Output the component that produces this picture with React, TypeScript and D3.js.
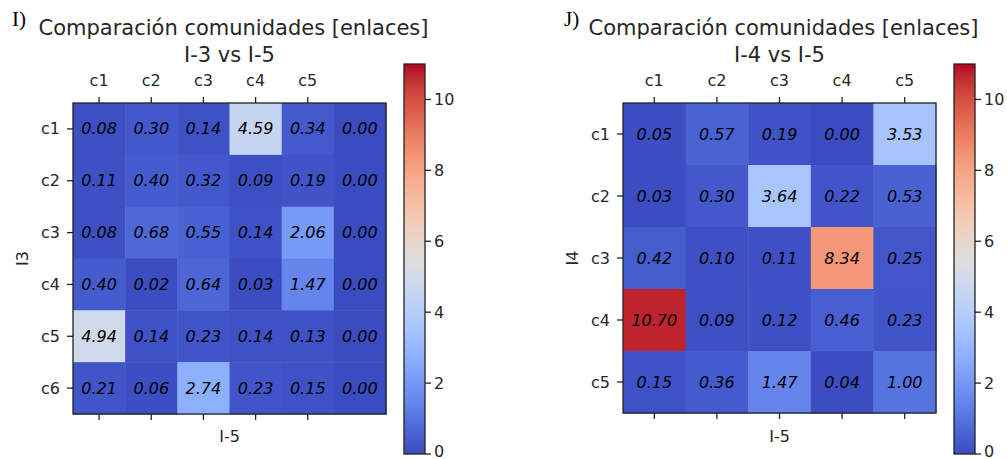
import React from "react";
import * as d3 from "d3";

// Matrices of link comparison between community partitions
const rowsI3 = ["c1", "c2", "c3", "c4", "c5", "c6"];
const colLabelsI5a = ["c1", "c2", "c3", "c4", "c5"];
const valuesI3vsI5 = [
  [0.08, 0.3, 0.14, 4.59, 0.34, 0.0],
  [0.11, 0.4, 0.32, 0.09, 0.19, 0.0],
  [0.08, 0.68, 0.55, 0.14, 2.06, 0.0],
  [0.4, 0.02, 0.64, 0.03, 1.47, 0.0],
  [4.94, 0.14, 0.23, 0.14, 0.13, 0.0],
  [0.21, 0.06, 2.74, 0.23, 0.15, 0.0],
];

const rowsI4 = ["c1", "c2", "c3", "c4", "c5"];
const colLabelsI5b = ["c1", "c2", "c3", "c4", "c5"];
const valuesI4vsI5 = [
  [0.05, 0.57, 0.19, 0.0, 3.53],
  [0.03, 0.3, 3.64, 0.22, 0.53],
  [0.42, 0.1, 0.11, 8.34, 0.25],
  [10.7, 0.09, 0.12, 0.46, 0.23],
  [0.15, 0.36, 1.47, 0.04, 1.0],
];

const colorTicks = [0, 2, 4, 6, 8, 10];
const colorMax = 11;

// Diverging blue-white-red colour ramp (coolwarm)
const coolwarmStops: [number, number, number][] = [
  [0.2298057, 0.298717966, 0.753683153],
  [0.26623388, 0.353094838, 0.801466763],
  [0.30386891, 0.406535296, 0.84495867],
  [0.342804478, 0.458757618, 0.883725899],
  [0.38301334, 0.50941904, 0.917387822],
  [0.424369608, 0.558148092, 0.945619588],
  [0.46666708, 0.604562568, 0.968154911],
  [0.509635204, 0.648280772, 0.98478814],
  [0.552953156, 0.688929332, 0.995375608],
  [0.596262162, 0.726149107, 0.999836203],
  [0.639176211, 0.759599947, 0.998151185],
  [0.681291281, 0.788964712, 0.990363227],
  [0.722193294, 0.813952739, 0.976574709],
  [0.761464949, 0.834302879, 0.956945269],
  [0.798691636, 0.849786142, 0.931688648],
  [0.833466556, 0.860207984, 0.901068838],
  [0.865395197, 0.86541021, 0.865395561],
  [0.897787179, 0.848937047, 0.820880546],
  [0.924127593, 0.827384882, 0.774508472],
  [0.944468518, 0.800927443, 0.726736146],
  [0.958852946, 0.769767752, 0.678007945],
  [0.96732803, 0.734132809, 0.628751763],
  [0.969954137, 0.694266682, 0.579375448],
  [0.966811177, 0.650421156, 0.530263762],
  [0.958003065, 0.602842431, 0.481775914],
  [0.943660866, 0.551750968, 0.434243684],
  [0.923944917, 0.49730856, 0.387970225],
  [0.89904617, 0.439559467, 0.343229596],
  [0.869186849, 0.378313092, 0.300267182],
  [0.834620542, 0.312874446, 0.259301199],
  [0.795631745, 0.24128379, 0.220525627],
  [0.752534934, 0.157246067, 0.184115123],
  [0.705673158, 0.01555616, 0.150232812],
];
const rampColors = coolwarmStops.map(([r, g, b]) =>
  d3.rgb(r * 255, g * 255, b * 255).formatHex()
);
const rampDomain = rampColors.map((_, i) => i / (rampColors.length - 1));
const coolwarm = d3
  .scaleLinear<string>()
  .domain(rampDomain)
  .range(rampColors)
  .interpolate(d3.interpolateRgb)
  .clamp(true);
const colorOf = (v: number) => coolwarm(v / colorMax);

const FONT = "'DejaVu Sans', sans-serif";
const TEXT = "#262626";
const TICK_FS = 16;
const TITLE_FS = 21;

type PanelProps = {
  id: string;
  tag: string;
  subtitle: string;
  yLabel: string;
  xLabel: string;
  rows: string[];
  colLabels: string[];
  values: number[][];
  left: number;
  right: number;
  top: number;
  bottom: number;
  cbLeft: number;
  tagX: number;
};

function Panel(p: PanelProps) {
  const nCols = p.values[0].length;
  const x = d3
    .scaleBand<number>()
    .domain(d3.range(nCols))
    .range([p.left, p.right]);
  const y = d3
    .scaleBand<string>()
    .domain(p.rows)
    .range([p.top, p.bottom]);
  const cx = (p.left + p.right) / 2;
  const cy = (p.top + p.bottom) / 2;

  const cbTop = 64;
  const cbBottom = 454;
  const cbWidth = 21;
  const cbScale = d3.scaleLinear().domain([0, colorMax]).range([cbBottom, cbTop]);
  const gradId = `grad-${p.id}`;

  return (
    <g>
      {/* panel tag and titles */}
      <text
        x={p.tagX}
        y={26}
        fontFamily="'Liberation Serif', 'Times New Roman', serif"
        fontSize={21}
        fill="#000"
      >
        {p.tag}
      </text>
      <text x={cx + 4} y={35} textAnchor="middle" fontFamily={FONT} fontSize={TITLE_FS} fill={TEXT}>
        Comparación comunidades [enlaces]
      </text>
      <text x={cx} y={62} textAnchor="middle" fontFamily={FONT} fontSize={TITLE_FS} fill={TEXT}>
        {p.subtitle}
      </text>

      {/* cells */}
      {p.values.map((row, ri) =>
        row.map((v, ci) => (
          <rect
            key={`c-${ri}-${ci}`}
            x={x(ci)!}
            y={y(p.rows[ri])!}
            width={x.bandwidth() + 0.5}
            height={y.bandwidth() + 0.5}
            fill={colorOf(v)}
          />
        ))
      )}
      {p.values.map((row, ri) =>
        row.map((v, ci) => (
          <text
            key={`t-${ri}-${ci}`}
            x={x(ci)! + x.bandwidth() / 2}
            y={y(p.rows[ri])! + y.bandwidth() / 2}
            textAnchor="middle"
            dominantBaseline="central"
            fontFamily={FONT}
            fontStyle="italic"
            fontSize={TICK_FS}
            fill="#000"
          >
            {v.toFixed(2)}
          </text>
        ))
      )}
      <rect
        x={p.left}
        y={p.top}
        width={p.right - p.left}
        height={p.bottom - p.top}
        fill="none"
        stroke="#222"
        strokeWidth={1.3}
      />

      {/* column ticks (top labelled, bottom bare) */}
      {p.colLabels.map((lab, i) => {
        const tx = x(i)! + x.bandwidth() / 2;
        return (
          <g key={`xt-${i}`}>
            <line x1={tx} x2={tx} y1={p.top} y2={p.top - 6} stroke="#222" strokeWidth={1.3} />
            <line x1={tx} x2={tx} y1={p.bottom} y2={p.bottom + 6} stroke="#222" strokeWidth={1.3} />
            <text x={tx} y={p.top - 17} textAnchor="middle" fontFamily={FONT} fontSize={TICK_FS} fill={TEXT}>
              {lab}
            </text>
          </g>
        );
      })}

      {/* row ticks */}
      {p.rows.map((lab) => {
        const ty = y(lab)! + y.bandwidth() / 2;
        return (
          <g key={`yt-${lab}`}>
            <line x1={p.left} x2={p.left - 6} y1={ty} y2={ty} stroke="#222" strokeWidth={1.3} />
            <text
              x={p.left - 13}
              y={ty}
              textAnchor="end"
              dominantBaseline="central"
              fontFamily={FONT}
              fontSize={TICK_FS}
              fill={TEXT}
            >
              {lab}
            </text>
          </g>
        );
      })}

      {/* axis labels */}
      <text x={cx} y={442} textAnchor="middle" fontFamily={FONT} fontSize={TICK_FS} fill={TEXT}>
        {p.xLabel}
      </text>
      <text
        transform={`translate(${p.left - 51},${cy}) rotate(-90)`}
        textAnchor="middle"
        dominantBaseline="central"
        fontFamily={FONT}
        fontSize={TICK_FS}
        fill={TEXT}
      >
        {p.yLabel}
      </text>

      {/* colour bar */}
      <defs>
        <linearGradient id={gradId} x1="0" y1="1" x2="0" y2="0">
          {rampColors.map((c, i) => (
            <stop key={i} offset={rampDomain[i]} stopColor={c} />
          ))}
        </linearGradient>
      </defs>
      <rect
        x={p.cbLeft}
        y={cbTop}
        width={cbWidth}
        height={cbBottom - cbTop}
        fill={`url(#${gradId})`}
        stroke="#222"
        strokeWidth={1.3}
      />
      {colorTicks.map((t) => (
        <g key={`cb-${t}`}>
          <line
            x1={p.cbLeft + cbWidth}
            x2={p.cbLeft + cbWidth + 6}
            y1={cbScale(t)}
            y2={cbScale(t)}
            stroke="#222"
            strokeWidth={1.3}
          />
          <text
            x={p.cbLeft + cbWidth + 9}
            y={Math.min(cbScale(t), 451)}
            dominantBaseline="central"
            fontFamily={FONT}
            fontSize={TICK_FS}
            fill={TEXT}
          >
            {t}
          </text>
        </g>
      ))}
    </g>
  );
}

export default function App() {
  return (
    <div style={{ position: "absolute", left: 0, top: 0, background: "#fff" }}>
      <svg width={1007} height={459} style={{ display: "block" }}>
        <rect width={1007} height={459} fill="#fff" />
        <Panel
          id="a"
          tag="I)"
          subtitle="I-3 vs I-5"
          yLabel="I3"
          xLabel="I-5"
          rows={rowsI3}
          colLabels={colLabelsI5a}
          values={valuesI3vsI5}
          left={73}
          right={386}
          top={103}
          bottom={414}
          cbLeft={404}
          tagX={12}
        />
        <Panel
          id="b"
          tag="J)"
          subtitle="I-4 vs I-5"
          yLabel="I4"
          xLabel="I-5"
          rows={rowsI4}
          colLabels={colLabelsI5b}
          values={valuesI4vsI5}
          left={623}
          right={936}
          top={103}
          bottom={413}
          cbLeft={954}
          tagX={564}
        />
      </svg>
    </div>
  );
}
